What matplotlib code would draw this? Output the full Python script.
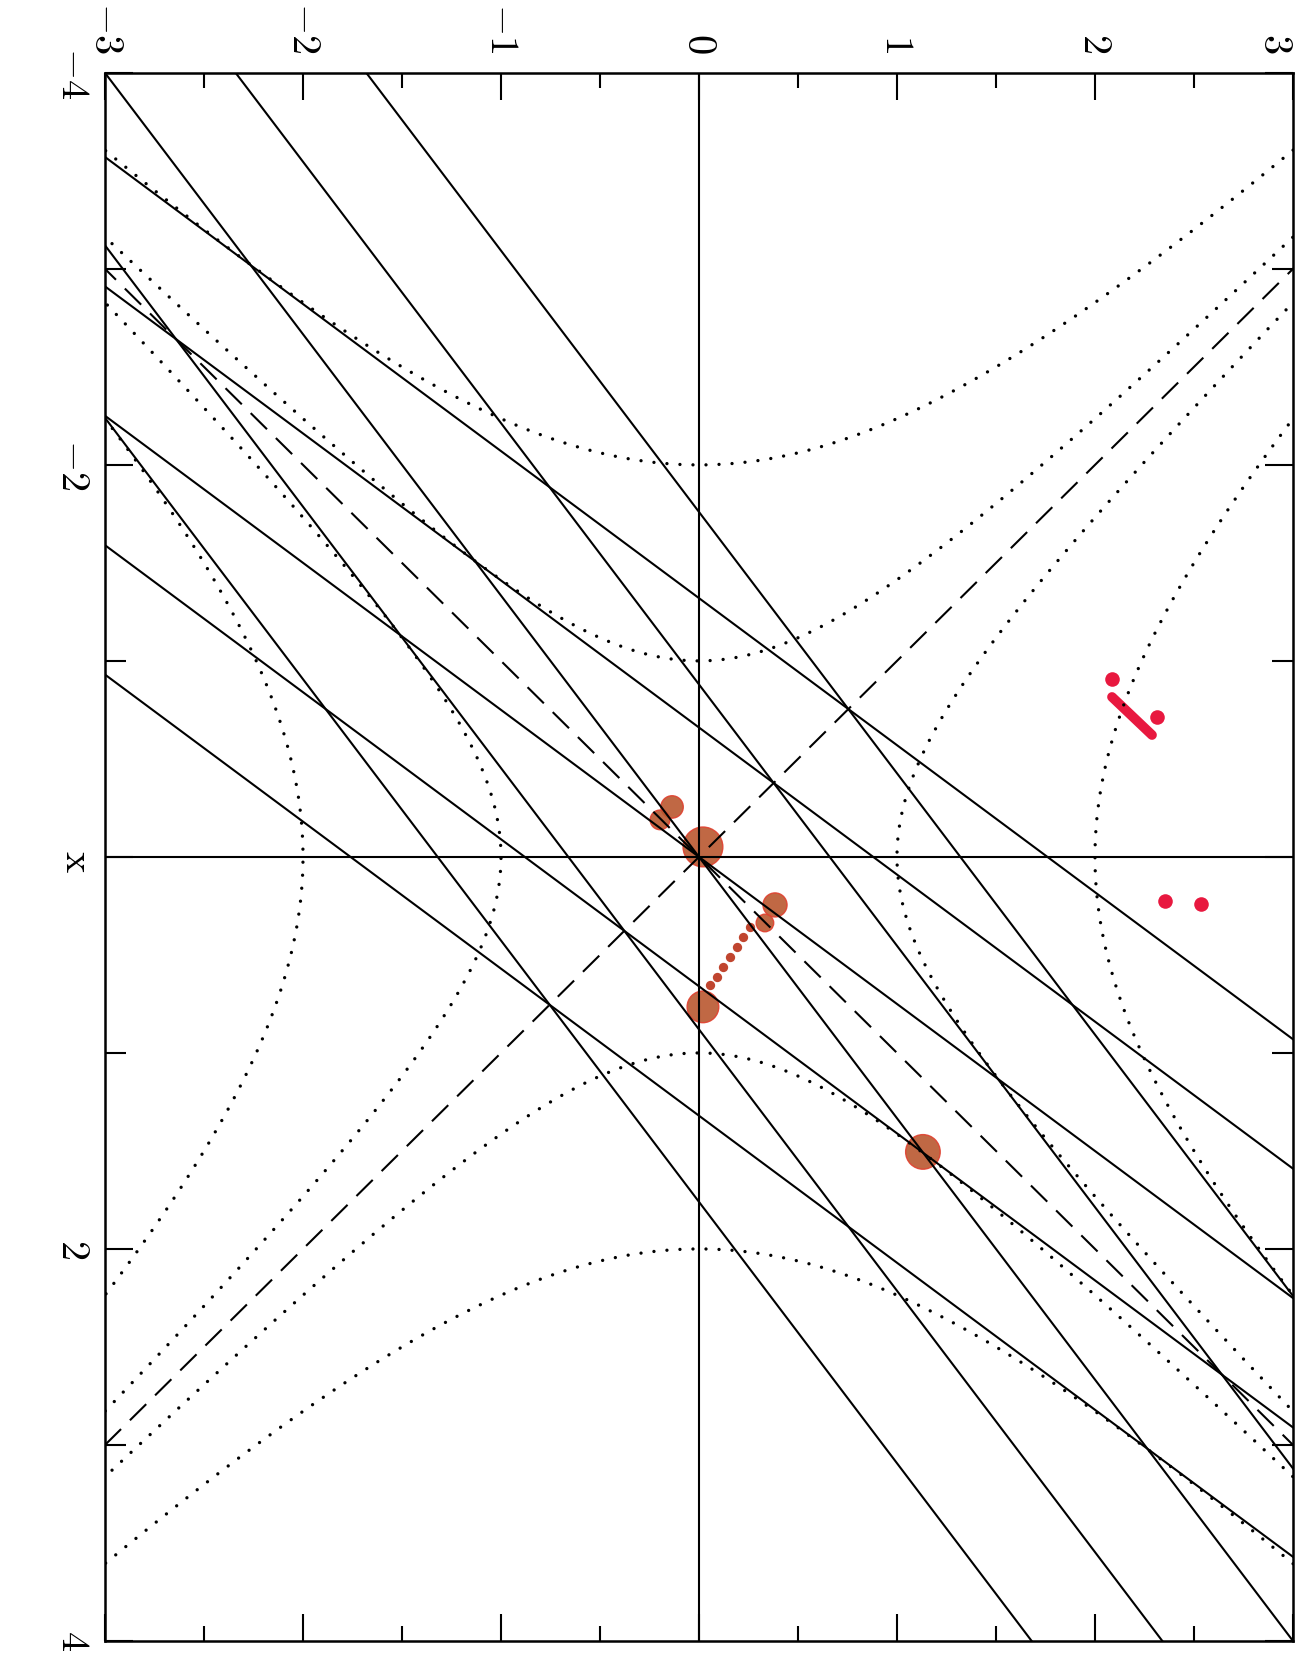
# ---   IMPORTS   --- #
# ------------------- #
import numpy as np
import matplotlib.pyplot as plt


# ---   DATA   --- #
# ---------------- #
# Hyperbola levels: x^2 - y^2 = +-level (dotted)
LEVELS = [1.0, 4.0]
# Solid line families y = slope * x + intercept
SLOPE_A = 0.75
INTERCEPTS_A = [-1.32, -0.66, 0.0, 0.66, 1.32]
SLOPE_B = 1.333
INTERCEPTS_B = [-1.76, -0.88, 0.0, 0.88, 1.76]
# Asymptotes (dashed) y = slope * x
ASYMPTOTE_SLOPES = [1.0, -1.0]
# Ticks
X_MAJOR = [-4, -2, 0, 2, 4]
X_MINOR = [-3, -1, 1, 3]
X_LABELS = [r'$-4$', r'$-2$', '', r'$2$', r'$4$']
Y_MAJOR = [-3, -2, -1, 0, 1, 2, 3]
Y_MINOR = [-2.5, -1.5, -0.5, 0.5, 1.5, 2.5]
Y_LABELS = [r'$-3$', r'$-2$', r'$-1$', r'$0$', r'$1$', r'$2$', r'$3$']
# Hand marks on the scan (x, y data coordinates)
RED_DOT_X = [-0.908, -0.714, 0.224, 0.240]
RED_DOT_Y = [2.086, 2.313, 2.354, 2.535]
RED_STROKE_X = [-0.816, -0.622]
RED_STROKE_Y = [2.086, 2.288]
BROWN_X = [-0.051, -0.255, -0.189, 0.245, 0.337, 0.765, 1.505]
BROWN_Y = [0.020, -0.136, -0.197, 0.384, 0.333, 0.020, 1.131]
BROWN_SIZE = [820, 260, 200, 300, 160, 520, 620]
CHAIN_X = [0.357, 0.408, 0.459, 0.510, 0.561, 0.612, 0.653]
CHAIN_Y = [0.258, 0.222, 0.192, 0.157, 0.121, 0.091, 0.056]


# ---   MAIN   --- #
# ---------------- #
if __name__ == '__main__':
    plt.rcParams['mathtext.fontset'] = 'cm'
    plt.rcParams['font.family'] = 'DejaVu Serif'
    # Prepare figure (page is rotated: x runs downwards, y to the right)
    fig = plt.figure(figsize=(13.03, 16.57), dpi=100)
    ax = fig.add_axes([0.0806, 0.0097, 0.9117, 0.9463])
    xs = np.array([-4.5, 4.5])
    # Axes lines
    ax.axhline(0, color='black', lw=1.5, zorder=3)
    ax.axvline(0, color='black', lw=1.5, zorder=3)
    # Solid lines
    for c in INTERCEPTS_A:
        ax.plot(SLOPE_A * xs + c, xs, color='black', lw=1.5, zorder=3)
    for c in INTERCEPTS_B:
        ax.plot(SLOPE_B * xs + c, xs, color='black', lw=1.5, zorder=3)
    # Dashed asymptotes
    for m in ASYMPTOTE_SLOPES:
        ax.plot(m * xs, xs, color='black', lw=1.5, ls=(0, (11, 6)), zorder=3)
    # Dotted hyperbolas
    dot_kw = dict(color='black', lw=2.4, ls=(0, (0.01, 3.9)),
                  dash_capstyle='round', zorder=3)
    yy = np.linspace(-3.3, 3.3, 600)
    xx = np.linspace(-4.4, 4.4, 600)
    for a in LEVELS:
        ax.plot(yy, np.sqrt(a + yy**2), **dot_kw)
        ax.plot(yy, -np.sqrt(a + yy**2), **dot_kw)
        ax.plot(np.sqrt(a + xx**2), xx, **dot_kw)
        ax.plot(-np.sqrt(a + xx**2), xx, **dot_kw)
    # Hand marks
    ax.scatter(RED_DOT_Y, RED_DOT_X, s=110, color='#e8183f', lw=0, zorder=2)
    ax.plot(RED_STROKE_Y, RED_STROKE_X, color='#e8183f', lw=7,
            solid_capstyle='round', zorder=2)
    ax.scatter(BROWN_Y, BROWN_X, s=BROWN_SIZE, color='#b9572f',
               edgecolor='#e0402f', lw=1, alpha=0.9, zorder=2)
    ax.scatter(CHAIN_Y, CHAIN_X, s=45, color='#c0452f', lw=0, zorder=2)
    # Format axes
    ax.set_xlim(-3, 3)
    ax.set_ylim(4, -4)
    ax.set_xticks(Y_MAJOR, Y_LABELS)
    ax.set_xticks(Y_MINOR, minor=True)
    ax.set_yticks(X_MAJOR, X_LABELS)
    ax.set_yticks(X_MINOR, minor=True)
    ax.tick_params(which='both', direction='in', top=True, bottom=True,
                   left=True, right=True, labeltop=True, labelbottom=False,
                   width=1.5, labelsize=29)
    ax.tick_params(axis='x', which='major', length=19.5, pad=14)
    ax.tick_params(axis='x', which='minor', length=11)
    ax.tick_params(axis='y', which='major', length=20, pad=10)
    ax.tick_params(axis='y', which='minor', length=15)
    xlabs = ax.get_xticklabels(which='major')
    for lab in xlabs:
        lab.set_rotation(-90)
    xlabs[-1].set_ha('right')
    for lab in ax.get_yticklabels(which='major'):
        lab.set_rotation(-90)
        lab.set_va('center')
    for s in ax.spines.values():
        s.set_linewidth(1.8)
    ax.set_ylabel(r'$\mathrm{x}$', fontsize=29, rotation=-90,
                  ha='center', va='center')
    ax.yaxis.set_label_coords(-0.024, 0.497)
    # Save figure
    fig.savefig('out.png', dpi=100)
